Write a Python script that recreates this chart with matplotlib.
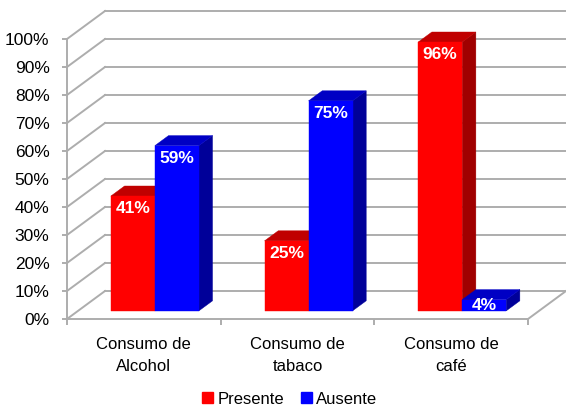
import matplotlib
matplotlib.use("Agg")
import matplotlib.pyplot as plt
from matplotlib.patches import Polygon, Patch

plt.rcParams['font.family'] = ['Liberation Sans', 'DejaVu Sans']

categories = ["Consumo de\nAlcohol", "Consumo de\ntabaco", "Consumo de\ncafé"]
presente = [41, 25, 96]
ausente = [59, 75, 4]
series_names = ["Presente", "Ausente"]
yticks = list(range(0, 101, 10))

# face colours: front, top, side
red = ("#FF0000", "#C00000", "#A00000")
blue = ("#0000FF", "#0000C4", "#000099")
grid = "#ADADAD"

fig = plt.figure(figsize=(5.66, 4.08), dpi=100)
ax = fig.add_axes([67 / 566, 89 / 408, 461 / 566, 280 / 408])
ax.set_xlim(0, len(categories))
ax.set_ylim(0, 100)

# fake 3d depth, in data units
DX = 38 / (461 / 3)
DY = 10
f0 = 0.29   # where bar front sits inside the depth
fd = 0.36   # bar depth
w = 44 / (461 / 3)

# walls / gridlines
for t in yticks:
    ax.plot([0, DX], [t, t + DY], color=grid, lw=1.4, clip_on=False, zorder=1)
    ax.plot([DX, len(categories) + DX], [t + DY, t + DY], color=grid, lw=1.4,
            clip_on=False, zorder=1)
ax.plot([len(categories), len(categories) + DX], [0, DY], color=grid, lw=1.4,
        clip_on=False, zorder=1)


def bar3d(x0, v, cols):
    x1 = x0 + w
    a, b = f0 * DX, f0 * DY
    ddx, ddy = fd * DX, fd * DY
    front = [(x0 + a, b), (x1 + a, b), (x1 + a, v + b), (x0 + a, v + b)]
    top = [(x0 + a, v + b), (x1 + a, v + b), (x1 + a + ddx, v + b + ddy), (x0 + a + ddx, v + b + ddy)]
    side = [(x1 + a, b), (x1 + a + ddx, b + ddy), (x1 + a + ddx, v + b + ddy), (x1 + a, v + b)]
    for pts, c in [(side, cols[2]), (top, cols[1]), (front, cols[0])]:
        ax.add_patch(Polygon(pts, closed=True, facecolor=c, edgecolor=c, lw=0.3,
                             clip_on=False, zorder=3))
    ly = max(v - 4.6, v / 2) + b
    ax.text(x0 + a + w / 2, ly, f"{v}%", color="white", fontsize=12.5, fontweight="bold",
            ha="center", va="center", zorder=4, clip_on=False)


for i in range(len(categories)):
    c = i + 0.5
    bar3d(c - w, presente[i], red)
    bar3d(c, ausente[i], blue)

for s in ["top", "right"]:
    ax.spines[s].set_visible(False)
for s in ["left", "bottom"]:
    ax.spines[s].set_color(grid)
    ax.spines[s].set_linewidth(1.4)
    ax.spines[s].set_zorder(2)

ax.set_yticks(yticks, [f"{t}%" for t in yticks])
ax.tick_params(axis="y", length=3.6, width=1.4, color=grid, pad=9, labelsize=12.5)
for lab in ax.get_yticklabels():
    lab.set_verticalalignment("center_baseline")
ax.set_xticks(range(len(categories) + 1), [""] * (len(categories) + 1))
ax.tick_params(axis="x", which="major", length=4, width=1.4, color=grid)
ax.set_xticks([i + 0.5 for i in range(len(categories))], categories, minor=True)
ax.tick_params(axis="x", which="minor", length=0, pad=13, labelsize=12)
for lab in ax.get_xticklabels(minor=True):
    lab.set_linespacing(1.55)

handles = [Patch(color=red[0]), Patch(color=blue[0])]
fig.legend(handles, series_names, loc="center", bbox_to_anchor=(0.512, 0.022), ncol=2,
           frameon=False, fontsize=12, handlelength=0.66, handleheight=0.66,
           handletextpad=0.25, columnspacing=1.0, borderpad=0)

fig.savefig("out.png", dpi=100)
